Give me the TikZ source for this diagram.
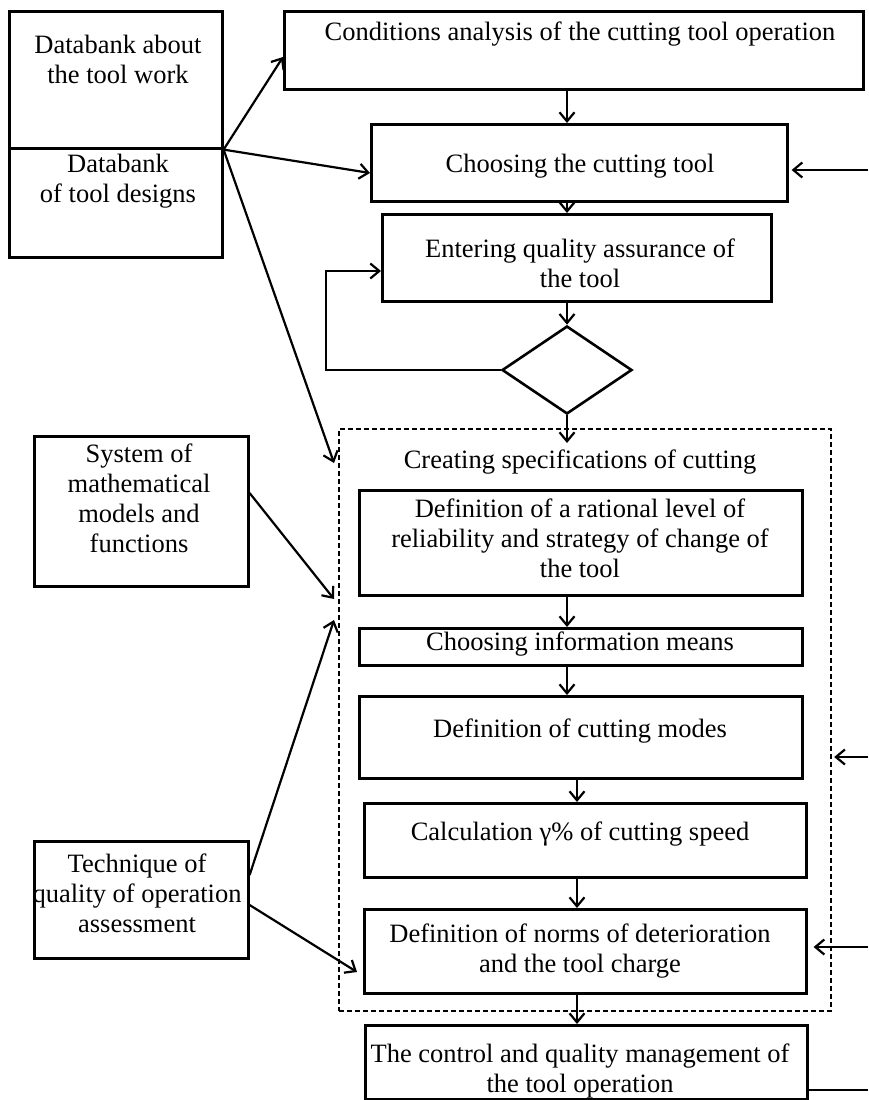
\documentclass[tikz,border=0pt]{standalone}
\usepackage{fontspec}
\setmainfont{Liberation Serif}
\usetikzlibrary{arrows.meta,shapes.geometric,calc}
\begin{document}
\begin{tikzpicture}[x=1pt,y=-1pt,
  box/.style={draw, line width=2.6pt, inner sep=0pt, anchor=north west},
  txt/.style={font=\fontsize{26.5}{30}\selectfont, align=center, inner sep=0pt, anchor=north},
  arr/.style={line width=2.2pt, -{Straight Barb[length=9pt,width=15pt,line width=2.2pt]}},
  ln/.style={line width=2.2pt},
  dashbox/.style={draw, line width=2.2pt, dash pattern=on 5pt off 3pt, inner sep=0pt, anchor=north west}]
\useasboundingbox (0,0) rectangle (868,1100);
\fill[white] (0,0) rectangle (868,1100);

% boxes
\node[box, minimum width=213pt, minimum height=137pt] (db1) at (8,10) {};
\node[box, minimum width=213pt, minimum height=109pt] (db2) at (8,147) {};
\node[box, minimum width=579pt, minimum height=78pt] (cond) at (283,10) {};
\node[box, minimum width=416pt, minimum height=77pt] (choose) at (370,123) {};
\node[box, minimum width=389pt, minimum height=87pt] (enter) at (381,213) {};
\node[draw, diamond, line width=2.6pt, inner sep=0pt, minimum width=130pt, minimum height=88pt] (diam) at (567,370) {};
\node[dashbox, minimum width=492pt, minimum height=582pt] (dash) at (338,428) {};
\node[box, minimum width=443pt, minimum height=105pt] (def1) at (358,489) {};
\node[box, minimum width=443pt, minimum height=37pt] (info) at (358,627) {};
\node[box, minimum width=443pt, minimum height=82pt] (modes) at (358,695) {};
\node[box, minimum width=442pt, minimum height=74pt] (calc) at (363,802) {};
\node[box, minimum width=442pt, minimum height=84pt] (norms) at (363,908) {};
\node[box, minimum width=442pt, minimum height=74pt] (control) at (364,1024) {};
\node[box, minimum width=214pt, minimum height=150pt] (sys) at (33,435) {};
\node[box, minimum width=214pt, minimum height=117pt] (tech) at (33,840) {};

% texts
\node[txt] (tdb1) at (118,35) {Databank about\\the tool work};
\node[txt] (tdb2) at (118,154) {Databank\\of tool designs};
\node[txt] (tcond) at (580,22) {Conditions analysis of the cutting tool operation};
\node[txt] (tchoose) at (580,154) {Choosing the cutting tool};
\node[txt] (tenter) at (580,239) {Entering quality assurance of\\the tool};
\node[txt] (tcreate) at (580,450) {Creating specifications of cutting};
\node[txt] (tdef1) at (580,499) {Definition of a rational level of\\reliability and strategy of change of\\the tool};
\node[txt] (tinfo) at (580,632) {Choosing information means};
\node[txt] (tmodes) at (580,719) {Definition of cutting modes};
\node[txt] (tcalc) at (580,822) {Calculation γ\% of cutting speed};
\node[txt] (tnorms) at (580,924) {Definition of norms of deterioration\\and the tool charge};
\node[txt] (tcontrol) at (580,1044) {The control and quality management of\\the tool operation};
\node[txt] (tsys) at (139,444) {System of\\mathematical\\models and\\functions};
\node[txt] (ttech) at (137,854) {Technique of\\quality of operation\\assessment};

% coordinates
\coordinate (jn) at (db1.south east);
\coordinate (col2) at (577,0);
\coordinate (rA) at (868,170);
\coordinate (rB) at (868,757);
\coordinate (rC) at (868,947);
\coordinate (rD) at (868,1090);
\coordinate (dIn) at (567,443);

% left connectors
\draw[arr] (jn) -- ($(cond.north west)+(0,47)$);
\draw[arr] (jn) -- ($(choose.north west)+(0,50)$);
\draw[arr] (jn) -- ($(dash.north west)+(-4,35)$);
\draw[arr] ($(sys.north east)+(0,58)$) -- ($(dash.north west)+(-4,171)$);
\draw[arr] ($(tech.north east)+(0,35)$) -- ($(dash.north west)+(-4,192)$);
\draw[arr] ($(tech.north east)+(0,65)$) -- ($(norms.north west)+(-6,64)$);

% main flow
\draw[arr] (cond.south -| diam) -- (choose.north -| diam);
\draw[arr] (choose.south -| diam) -- (enter.north -| diam);
\draw[arr] (enter.south -| diam) -- (diam.north);
\draw[arr] (diam.south) -- (dIn);
\draw[arr] (diam.west) -- ++(-175,0) |- ($(enter.north west)+(0,58)$);
\draw[arr] (def1.south -| diam) -- (info.north -| diam);
\draw[arr] (info.south -| diam) -- (modes.north -| diam);
\draw[arr] (modes.south -| col2) -- (calc.north -| col2);
\draw[arr] (calc.south -| col2) -- (norms.north -| col2);
\draw[arr] (norms.south -| col2) -- (control.north -| col2);

% right connectors
\draw[arr] (rA) -- ($(choose.east |- rA)+(3,0)$);
\draw[arr] (rB) -- ($(dash.east |- rB)+(2,0)$);
\draw[arr] (rC) -- ($(norms.east |- rC)+(6,0)$);
\draw[ln] (control.east |- rD) -- (rD);
\end{tikzpicture}
\end{document}
